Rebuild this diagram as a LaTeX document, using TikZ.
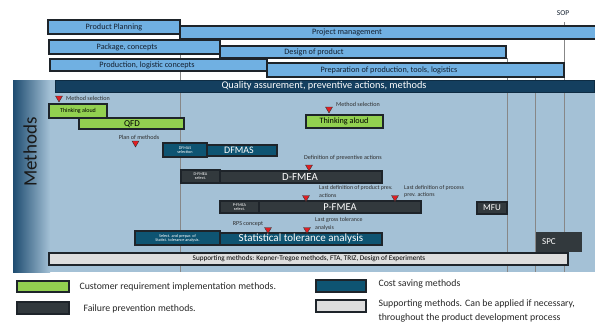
\documentclass[tikz,border=0pt]{standalone}
\usepackage{fontspec}
\setmainfont{Carlito}
\usetikzlibrary{shapes.geometric}

\definecolor{phaseblue}{RGB}{112,176,226}
\definecolor{panelblue}{RGB}{164,193,214}
\definecolor{panelnavy}{RGB}{30,76,112}
\definecolor{qualnavy}{RGB}{20,63,95}
\definecolor{methgreen}{RGB}{146,208,80}
\definecolor{methteal}{RGB}{14,84,114}
\definecolor{methdark}{RGB}{50,57,61}
\definecolor{methgrey}{RGB}{221,221,221}
\definecolor{barline}{RGB}{30,36,42}
\definecolor{gridgrey}{RGB}{135,135,135}
\definecolor{markred}{RGB}{225,30,35}
\definecolor{labelgrey}{RGB}{45,45,45}
\definecolor{phasetext}{RGB}{20,32,48}

\newcommand{\setfs}[1]{\fontsize{#1pt}{#1pt}\selectfont}

\tikzset{
	phase/.style={draw=barline, line width=1.1pt, fill=phaseblue},
	phasetxt/.style={font=\setfs{8.2}, text=phasetext},
	custbar/.style={draw=barline, line width=1.1pt, fill=methgreen},
	costbar/.style={draw=barline, line width=1.1pt, fill=methteal},
	failbar/.style={draw=barline, line width=1.1pt, fill=methdark},
	suppbar/.style={draw=barline, line width=1.1pt, fill=methgrey},
	gridline/.style={draw=gridgrey, line width=0.9pt},
	tri/.style={regular polygon, regular polygon sides=3, shape border rotate=180,
		fill=markred, draw=black!80, line width=0.4pt, minimum size=8pt, inner sep=0pt},
	small/.style={text=labelgrey, font=\setfs{6.1}, inner sep=0pt},
	smalltwo/.style={text=labelgrey, inner sep=0pt, anchor=west, align=left,
		font=\fontsize{5.9pt}{7.5pt}\selectfont},
	boxtxt/.style={text=white, font=\setfs{4.2}, align=center, inner sep=0pt},
	legtxt/.style={font=\fontsize{9.8pt}{14pt}\selectfont, anchor=west, align=left, text=black!85}
}

\begin{document}
\begin{tikzpicture}[x=1pt, y=-1pt]
	\useasboundingbox (0,0) rectangle (595,325);

	%methods panel
	\fill[panelblue] (13,80) rectangle (595,272);
	\shade[left color=panelnavy, right color=panelblue] (13,80) rectangle (50,272);
	\node[rotate=90, font=\setfs{19}, text=black!90] (methods) at (30,152) {Methods};

	%time marks
	\foreach \gx/\gy in {180/34, 507/58, 535/77, 564/22}
		\draw[gridline] (\gx,\gy) -- (\gx,272);
	\node[font=\setfs{7.5}, text=phasetext] (sop) at (563,13) {SOP};

	%phases
	\draw[phase] (180,26) rectangle (597,39);
	\draw[phase] (48,20) rectangle (180,34);
	\draw[phase] (49,40) rectangle (220,54);
	\draw[phase] (220,46) rectangle (506,58);
	\draw[phase] (50,59) rectangle (267,71);
	\draw[phase] (267,63) rectangle (564,77);
	\node[phasetxt] (plan) at (114,27) {Product Planning};
	\node[phasetxt] (pm) at (347,32.5) {Project management};
	\node[phasetxt] (pack) at (127,47) {Package, concepts};
	\node[phasetxt] (design) at (314,52) {Design of product};
	\node[phasetxt] (prod) at (147,65) {Production, logistic concepts};
	\node[phasetxt] (prep) at (389,70) {Preparation of production, tools, logistics};

	%quality bar
	\draw[draw=qualnavy!70!black, line width=0.8pt, fill=qualnavy] (55,80) rectangle (594,92);
	\node[text=white, font=\setfs{10.3}] (qa) at (324,86) {Quality assurement, preventive actions, methods};

	%customer requirement methods
	\draw[custbar] (49,104) rectangle (107,118);
	\draw[custbar] (79,118) rectangle (184,129);
	\draw[custbar] (306,115) rectangle (383,128);
	\node[font=\setfs{6}] (think1) at (78,111) {Thinking aloud};
	\node[font=\setfs{9}] (qfd) at (132,124) {QFD};
	\node[font=\setfs{8.2}] (think2) at (344,121.5) {Thinking aloud};

	%cost saving methods
	\draw[costbar] (163,143) rectangle (207,157);
	\draw[costbar] (207,145) rectangle (277,156);
	\node[boxtxt] (dfmassel) at (185,150) {DFMAS\\selection};
	\node[text=white, font=\setfs{10}] (dfmas) at (239,150.5) {DFMAS};
	\draw[costbar] (135,231) rectangle (220,245);
	\draw[costbar] (220,233) rectangle (382,245);
	\node[boxtxt] (statsel) at (177.5,238) {Select. and prepar. of\\Statist. tolerance analysis.};
	\node[text=white, font=\setfs{11}] (stat) at (301,239) {Statistical tolerance analysis};

	%failure prevention methods
	\draw[failbar] (181,170) rectangle (220,183);
	\draw[failbar] (220,171) rectangle (382,183);
	\node[boxtxt] (dfmeasel) at (200.5,176.5) {D-FMEA\\select.};
	\node[text=white, font=\setfs{10.8}] (dfmea) at (300,177) {D-FMEA};
	\draw[failbar] (220,201) rectangle (259,213);
	\draw[failbar] (259,201) rectangle (421,213);
	\node[boxtxt] (pfmeasel) at (239.5,207) {P-FMEA\\select.};
	\node[text=white, font=\setfs{10.5}] (pfmea) at (340,207) {P-FMEA};
	\draw[failbar] (477,202) rectangle (507,214);
	\node[text=white, font=\setfs{9}] (mfu) at (492,208) {MFU};
	\fill[methdark] (536,232) rectangle (582,252);
	\node[text=white, font=\setfs{9}, anchor=west, inner sep=0pt] (spc) at (542,242) {SPC};

	%supporting methods
	\draw[suppbar] (49,253) rectangle (568,265);
	\node[font=\setfs{7.2}] (supp) at (309,259) {Supporting methods: Kepner-Tregoe methods, FTA, TRIZ, Design of Experiments};

	%milestones
	\node[tri] (t1) at (59,98) {};
	\node[tri] (t2) at (135.5,143) {};
	\node[tri] (t3) at (329,109) {};
	\node[tri] (t4) at (309,167) {};
	\node[tri] (t5) at (306,197.5) {};
	\node[tri] (t6) at (395,197.5) {};
	\node[tri] (t7) at (268,229.5) {};
	\node[tri] (t8) at (307,229.5) {};
	\node[small, anchor=west] (msel1) at (66,98.5) {Method selection};
	\node[small, anchor=west] (msel2) at (336,104) {Method selection};
	\node[small] (planm) at (139,137) {Plan of methods};
	\node[small] (defprev) at (343,157.5) {Definition of preventive actions};
	\node[smalltwo] (lastprod) at (319,191.5) {Last definition of product prev.\\actions};
	\node[smalltwo] (lastproc) at (404,191.5) {Last definition of process\\prev. actions};
	\node[smalltwo] (lastgross) at (315,224) {Last gross tolerance\\analysis};
	\node[small] (rps) at (248,224) {RPS concept};

	%legend
	\draw[custbar] (17,281) rectangle (69,292);
	\node[legtxt] (lcust) at (76,287) {Customer requirement implementation methods.};
	\draw[failbar] (17,302) rectangle (69,314);
	\node[legtxt] (lfail) at (80,309) {Failure prevention methods.};
	\draw[costbar] (316,280) rectangle (366,292);
	\node[legtxt] (lcost) at (375,284) {Cost saving methods};
	\draw[suppbar] (316,300) rectangle (366,312);
	\node[legtxt] (lsupp) at (375,310.5) {Supporting methods. Can be applied if necessary,\\throughout the product development process};
\end{tikzpicture}
\end{document}
